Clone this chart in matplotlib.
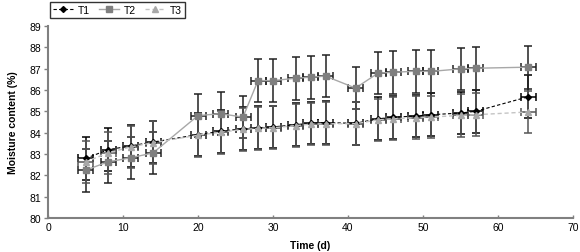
import matplotlib
matplotlib.use("Agg")
import matplotlib.pyplot as plt

plt.rcParams["font.family"] = ["Liberation Sans Narrow", "Liberation Sans", "DejaVu Sans"]

days = [5, 8, 11, 14, 20, 23, 26, 28, 30, 33, 35, 37, 41, 44, 46, 49, 51, 55, 57, 64]
t1 = [82.79, 83.20, 83.38, 83.56, 83.91, 84.06, 84.19, 84.23, 84.27, 84.37,
      84.45, 84.47, 84.44, 84.65, 84.72, 84.78, 84.84, 84.92, 85.00, 85.68]
t2 = [82.24, 82.63, 82.82, 83.05, 84.80, 84.89, 84.73, 86.44, 86.44, 86.55,
      86.60, 86.65, 86.09, 86.79, 86.83, 86.88, 86.87, 86.99, 87.02, 87.07]
t3 = [82.63, 83.05, 83.33, 83.53, 83.88, 84.02, 84.15, 84.20, 84.23, 84.33,
      84.40, 84.42, 84.42, 84.60, 84.65, 84.70, 84.73, 84.81, 84.84, 84.97]
err_t1 = [1.0] * len(days)
err_t2 = [1.0] * len(days)
err_t3 = [1.0] * len(days)
err_days = [1.0] * len(days)

fig = plt.figure(figsize=(5.8, 2.53), dpi=100)
ax = fig.add_axes([48 / 580, 34 / 253, 525 / 580, 192 / 253])

series = [
    ("T1", t1, err_t1, dict(color="black", marker="D", markersize=3,
                            linestyle=(0, (3, 2)), linewidth=0.8), "black"),
    ("T2", t2, err_t2, dict(color="#a8a8a8", marker="s", markersize=5,
                            markerfacecolor="#7f7f7f", markeredgecolor="#7f7f7f",
                            linestyle="-", linewidth=1.0), "#222222"),
    ("T3", t3, err_t3, dict(color="#c4c4c4", marker="^", markersize=5,
                            markerfacecolor="#a8a8a8", markeredgecolor="#a8a8a8",
                            linestyle=(0, (3, 2)), linewidth=1.0), "#555555"),
]

handles = []
for name, vals, err, style, ecol in series:
    ax.errorbar(days, vals, yerr=err, xerr=err_days, fmt="none", ecolor=ecol,
                elinewidth=1.1, capsize=3.2, capthick=1.1, zorder=2)
    h, = ax.plot(days, vals, label=name, zorder=3, **style)
    handles.append(h)

ax.set_xlim(0, 70)
ax.set_ylim(80, 89)
ax.set_xticks(range(0, 71, 10))
ax.set_yticks(range(80, 90))
for side in ("top", "right"):
    ax.spines[side].set_visible(False)
for side in ("left", "bottom"):
    ax.spines[side].set_color("#808080")
    ax.spines[side].set_linewidth(1.5)
ax.tick_params(axis="y", direction="out", length=3, width=1, color="#808080",
               labelsize=7.5, pad=2)
ax.tick_params(axis="x", direction="in", length=2, width=1, color="#808080",
               labelsize=7.5, pad=3)

ax.set_xlabel("Time (d)", fontsize=7.5, fontweight="bold", labelpad=6)
ax.set_ylabel("Moisture content (%)", fontsize=7.5, fontweight="bold", labelpad=8)

leg = fig.legend(handles=handles, loc="upper left", ncol=3,
                 bbox_to_anchor=(50 / 580, 1 - 3 / 253), borderaxespad=0,
                 fontsize=7.5, frameon=True, fancybox=False, edgecolor="black",
                 handlelength=1.9, columnspacing=0.9, handletextpad=0.45,
                 borderpad=0.3)
leg.get_frame().set_linewidth(1.0)

fig.savefig("out.png", dpi=100)
